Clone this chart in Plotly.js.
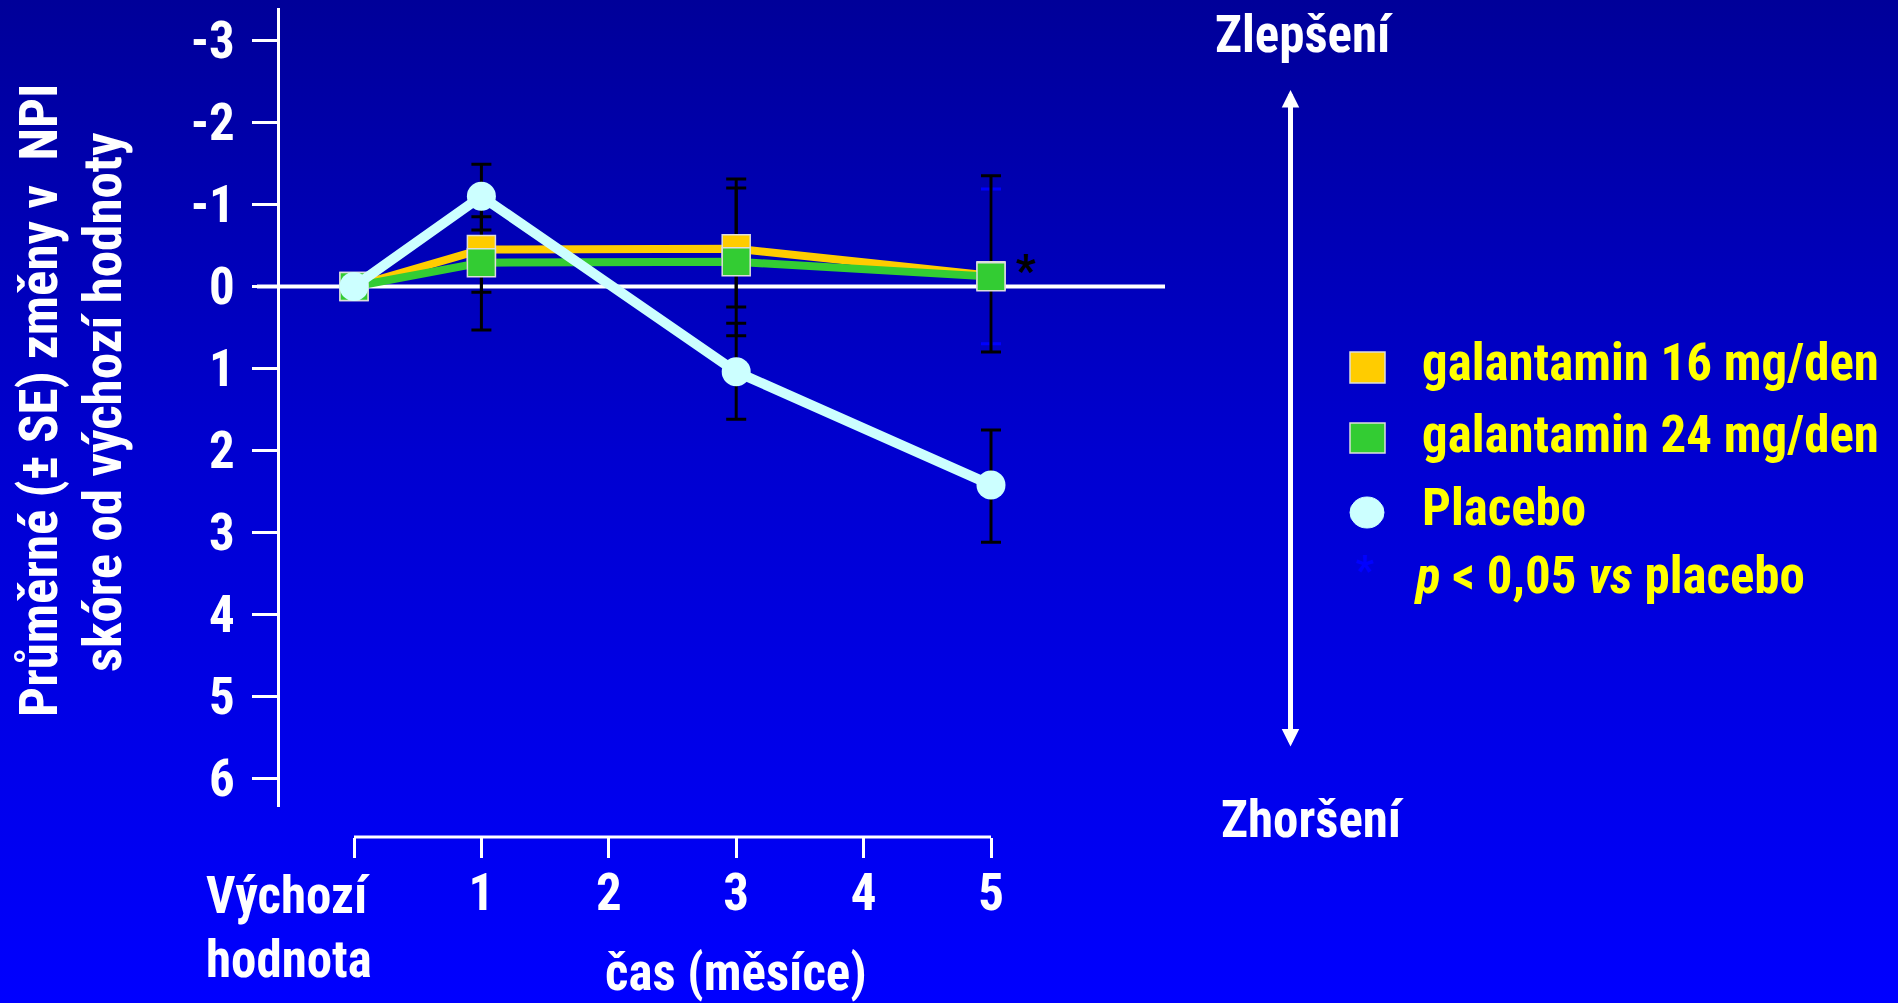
<!DOCTYPE html>
<html>
<head>
<meta charset="utf-8">
<script src="https://cdn.plot.ly/plotly-3.0.1.min.js"></script>
<style>
  html, body { margin: 0; padding: 0; }
  body { width: 1898px; height: 1003px; overflow: hidden;
         background: linear-gradient(to bottom, #000099 0%, #0000D0 45%, #0000FF 100%); }
  #chart { width: 1898px; height: 1003px; }
</style>
</head>
<body>
<div id="chart"></div>
<script>
// ---------------- data ----------------
const months = [0, 1, 3, 5];
const xTickVals = [0, 1, 2, 3, 4, 5];
const xTickText = ['', '1', '2', '3', '4', '5'];
const yTickVals = [-3, -2, -1, 0, 1, 2, 3, 4, 5, 6];
const yTickText = ['-3', '-2', '-1', '0', '1', '2', '3', '4', '5', '6'];

const seriesNames = ['galantamin 16 mg/den', 'galantamin 24 mg/den', 'Placebo'];

const gal16 = [0, -0.45, -0.46, -0.13];
const gal16SeUp = [0, 0.40, 0.85, 1.22];     // toward improvement (up on chart)
const gal16SeDown = [0, 0.52, 0.71, 0.93];

const gal24 = [0, -0.29, -0.30, -0.12];
const gal24SeUp = [0, 0.82, 0.90, 1.07];
const gal24SeDown = [0, 0.82, 0.90, 0.82];

const placebo = [0, -1.10, 1.04, 2.42];
const placeboSeUp = [0, 0.39, 0.59, 0.67];
const placeboSeDown = [0, 0.41, 0.58, 0.70];

// ---------------- font choice (narrow bold face if installed) ----------------
const ctx = document.createElement('canvas').getContext('2d');
function textWidth(font, s) { ctx.font = font; return ctx.measureText(s).width; }
function hasFont(name) {
  const s = 'galantamin 16 mg/den WMQil';
  return textWidth('bold 40px monospace', s) !== textWidth('bold 40px "' + name + '", monospace', s) &&
         textWidth('bold 40px serif', s) !== textWidth('bold 40px "' + name + '", serif', s);
}
const candidates = ['Liberation Sans Narrow', 'Arial Narrow', 'Roboto Condensed', 'Noto Sans Condensed',
                    'Open Sans Condensed', 'Nimbus Sans Narrow', 'Liberation Sans', 'Arial'];
let family = 'Liberation Sans';
for (const c of candidates) { if (hasFont(c)) { family = c; break; } }
const FONT = '"' + family + '", "Liberation Sans", Arial, sans-serif';
// size the text so that a legend line has the width it has in the slide (457 px)
const w52 = textWidth('bold 52px ' + FONT, seriesNames[0]);
const FS = Math.max(38, Math.min(54, 52 * 457 / w52));

// ---------------- styling helpers ----------------
const W = 1898, H = 1003;
const xp = p => p / W;
const yp = p => 1 - p / H;
const ORANGE = '#FFCC00', GREEN = '#33CC33', CYAN = '#CCFFFF';
const K = 0.34 * FS;   // distance from text-box centre to baseline

function errCarrier(x, y, up, down, color) {
  return {
    type: 'scatter', mode: 'markers', x: x, y: y, showlegend: false, hoverinfo: 'skip',
    marker: {size: 2, color: 'rgba(0,0,0,0)'},
    error_y: {type: 'data', symmetric: false, array: down, arrayminus: up,
              color: color, thickness: 3, width: 10}
  };
}

const traces = [
  // error bars first so that they sit beneath all markers and lines
  errCarrier(months.slice(3), gal24.slice(3), gal24SeUp.slice(3), gal24SeDown.slice(3), '#0000FF'),
  errCarrier(months, gal16, gal16SeUp, gal16SeDown, '#000000'),
  errCarrier(months.slice(0, 3), gal24.slice(0, 3), gal24SeUp.slice(0, 3), gal24SeDown.slice(0, 3), '#000000'),
  errCarrier(months, placebo, placeboSeUp, placeboSeDown, '#000000'),
  {type: 'scatter', mode: 'lines+markers', name: seriesNames[0], x: months, y: gal16,
   line: {color: ORANGE, width: 8},
   marker: {symbol: 'square', size: 28, color: ORANGE, line: {color: '#DDDDDD', width: 1.5}}},
  {type: 'scatter', mode: 'lines+markers', name: seriesNames[1], x: months, y: gal24,
   line: {color: GREEN, width: 8},
   marker: {symbol: 'square', size: 28, color: GREEN, line: {color: '#DDDDDD', width: 1.5}}},
  {type: 'scatter', mode: 'lines+markers', name: seriesNames[2], x: months, y: placebo,
   line: {color: CYAN, width: 10},
   marker: {symbol: 'circle', size: 29, color: CYAN, line: {width: 0}}}
];

const fnt = (color, size) => ({family: FONT, size: size || FS, color: color, weight: 'bold'});
// text placed by its baseline (px from top)
const txt = (text, x, base, opts) => Object.assign({
  text: text, xref: 'paper', yref: 'paper', x: xp(x), y: yp(base - K),
  xanchor: 'center', yanchor: 'middle', showarrow: false, font: fnt('#FFFFFF')
}, opts || {});
// rotated text placed by its baseline (px from left)
const FT = FS * 1.04;
const vtxt = (text, base, yc) => ({
  text: text, xref: 'paper', yref: 'paper', x: xp(base - 0.34 * FT), y: yp(yc),
  xanchor: 'center', yanchor: 'middle', showarrow: false, textangle: -90, font: fnt('#FFFFFF', FT)
});

const annotations = [
  // y-axis title (two lines)
  vtxt('Průměrné (± SE) změny v  NPI', 57, 400),
  vtxt('skóre od výchozí hodnoty', 121, 402),
  // x-axis baseline label & title
  txt('Výchozí', 204, 913, {xanchor: 'left'}),
  txt('hodnota', 204, 977, {xanchor: 'left'}),
  txt('čas (měsíce)', 736, 990),
  // improvement / worsening
  txt('Zlepšení', 1304, 52),
  txt('Zhoršení', 1312, 837),
  // legend
  txt(seriesNames[0], 1420, 380, {xanchor: 'left', font: fnt('#FFFF00')}),
  txt(seriesNames[1], 1420, 452, {xanchor: 'left', font: fnt('#FFFF00')}),
  txt(seriesNames[2], 1420, 525, {xanchor: 'left', font: fnt('#FFFF00')}),
  txt('<i>p</i> &lt; 0,05 <i>vs</i> placebo', 1412, 593, {xanchor: 'left', font: fnt('#FFFF00')}),
  txt('*', 1365, 588, {font: fnt('#0000FF', 40)}),
  // significance star at month 5
  txt('*', 1026, 288, {font: fnt('#000000', 44)}),
  // double arrow
  {text: '', xref: 'paper', yref: 'paper', x: xp(1290.5), y: yp(90), ax: 0, ay: 658,
   showarrow: true, arrowside: 'end+start', arrowhead: 2, startarrowhead: 2,
   arrowsize: 0.7, startarrowsize: 0.7, arrowwidth: 5, arrowcolor: '#FFFFFF'}
];

const shapes = [
  // zero reference line
  {type: 'line', xref: 'paper', yref: 'y', x0: xp(257), x1: xp(1165), y0: 0, y1: 0,
   line: {color: '#FFFFFF', width: 4}, layer: 'below'},
  // x axis line (from baseline to month 5)
  {type: 'line', xref: 'x', yref: 'paper', x0: 0, x1: 5, y0: yp(837), y1: yp(837),
   line: {color: '#FFFFFF', width: 3}, layer: 'below'},
  // legend symbols
  {type: 'rect', xref: 'paper', yref: 'paper', x0: xp(1350), x1: xp(1385), y0: yp(352), y1: yp(383),
   fillcolor: ORANGE, line: {color: '#DDDDDD', width: 1.5}},
  {type: 'rect', xref: 'paper', yref: 'paper', x0: xp(1350), x1: xp(1385), y0: yp(423), y1: yp(453),
   fillcolor: GREEN, line: {color: '#DDDDDD', width: 1.5}},
  {type: 'circle', xref: 'paper', yref: 'paper', x0: xp(1350), x1: xp(1384), y0: yp(497), y1: yp(528),
   fillcolor: CYAN, line: {color: CYAN, width: 1}}
];

const layout = {
  width: W, height: H,
  margin: {l: 0, r: 0, t: 0, b: 0, pad: 0},
  paper_bgcolor: 'rgba(0,0,0,0)', plot_bgcolor: 'rgba(0,0,0,0)',
  showlegend: false,
  font: fnt('#FFFFFF'),
  xaxis: {
    domain: [xp(257), xp(1165)], range: [-0.7614, 6.3658],
    anchor: 'free', position: yp(837),
    showline: false, zeroline: false, showgrid: false,
    ticks: 'outside', ticklen: 20, tickwidth: 3, tickcolor: '#FFFFFF',
    tickmode: 'array', tickvals: xTickVals, ticktext: xTickText,
    tickfont: fnt('#FFFFFF'),
    ticklabelstandoff: Math.round(913 - 857 - 1.27 * FS), automargin: false, fixedrange: true
  },
  yaxis: {
    domain: [yp(807), yp(8)], range: [6.348, -3.396],
    anchor: 'free', position: xp(278),
    showline: true, linecolor: '#FFFFFF', linewidth: 3,
    zeroline: false, showgrid: false,
    ticks: 'outside', ticklen: 25, tickwidth: 3, tickcolor: '#FFFFFF',
    tickmode: 'array', tickvals: yTickVals, ticktext: yTickText,
    tickfont: fnt('#FFFFFF'),
    ticklabelstandoff: 7, automargin: false, fixedrange: true
  },
  annotations: annotations,
  shapes: shapes
};

Plotly.newPlot('chart', traces, layout, {displayModeBar: false, staticPlot: true});
</script>
</body>
</html>
